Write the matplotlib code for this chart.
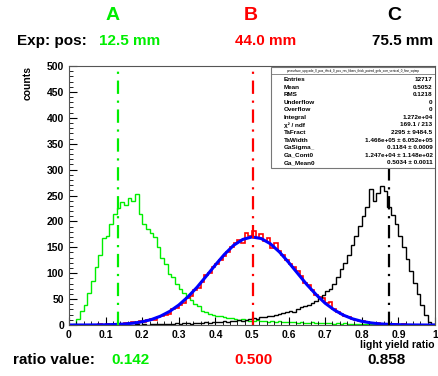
import numpy as np
from matplotlib import pyplot as plt
from matplotlib.patches import Rectangle

plt.rcParams['font.family'] = ['Liberation Sans', 'DejaVu Sans']

# 100 bins between 0 and 1
edges = np.linspace(0, 1, 101)

hist_A = [0, 2, 12, 28, 38, 62, 85, 112, 135, 168,
          172, 195, 215, 225, 238, 232, 246, 240, 252, 215,
          195, 185, 178, 170, 150, 130, 118, 98, 92, 80,
          70, 62, 55, 48, 40, 36, 27, 26, 22, 20,
          18, 18, 15, 14, 13, 12, 10, 11, 9, 8,
          8, 9, 7, 8, 6, 7, 6, 7, 5, 6,
          5, 6, 4, 5, 4, 4, 5, 3, 4, 3,
          4, 3, 2, 3, 2, 3, 2, 2, 1, 2,
          1, 2, 1, 1, 1, 1, 1, 0, 1, 0,
          1, 0, 0, 0, 0, 0, 0, 0, 0, 0]

hist_B = [0, 0, 0, 0, 0, 0, 0, 0, 1, 0,
          1, 0, 1, 2, 1, 3, 3, 5, 4, 7,
          6, 10, 12, 10, 16, 18, 20, 22, 30, 33,
          38, 42, 52, 56, 68, 72, 84, 96, 100, 112,
          118, 125, 134, 140, 150, 158, 165, 158, 178, 172,
          182, 168, 175, 162, 168, 148, 158, 142, 136, 125,
          118, 112, 104, 95, 82, 78, 68, 58, 55, 52,
          42, 45, 30, 26, 22, 18, 15, 12, 10, 8,
          7, 6, 4, 4, 3, 2, 2, 1, 1, 1,
          0, 1, 0, 0, 0, 0, 0, 0, 0, 0]

hist_C = [0, 0, 0, 0, 0, 0, 0, 0, 0, 0,
          0, 0, 0, 0, 0, 1, 0, 0, 1, 0,
          1, 0, 1, 1, 2, 1, 2, 2, 1, 3,
          2, 3, 3, 2, 4, 3, 4, 5, 4, 5,
          6, 5, 7, 6, 8, 7, 9, 8, 10, 11,
          13, 12, 15, 16, 18, 17, 20, 22, 24, 25,
          28, 26, 30, 34, 36, 38, 42, 46, 52, 58,
          65, 70, 80, 92, 108, 120, 135, 155, 172, 192,
          210, 228, 262, 240, 255, 268, 258, 228, 212, 195,
          172, 150, 128, 105, 82, 60, 38, 20, 6, 1]

# gaussian fit curve
fit_x = np.linspace(0, 1, 41)
fit_y = [0.02, 0.05, 0.1, 0.24, 0.5, 1.0, 1.9, 3.6, 6.3, 10.5,
         17.1, 26.3, 38.6, 54.4, 73, 94.3, 116, 136.6, 154, 165.3,
         170, 167, 157, 141, 121, 99.5, 78, 58.9, 42, 29.0,
         19, 11.9, 7.1, 4.1, 2.2, 1.2, 0.6, 0.3, 0.1, 0.03, 0.0]

mark_pos = [0.134, 0.503, 0.875]
mark_col = ['#00ee00', '#ff0000', 'black']
labels = ['A', 'B', 'C']
exp_pos = ['12.5 mm', '44.0 mm', '75.5 mm']
ratio_vals = ['0.142', '0.500', '0.858']

stats_names = ['Entries', 'Mean', 'RMS', 'Underflow', 'Overflow', 'Integral',
               'χ² / ndf', 'TaFract', 'TaWidth', 'GaSigma_', 'Ga_Cont0', 'Ga_Mean0']
stats_vals = ['12717', '0.5052', '0.1218', '0', '0', '1.272e+04', '169.1 / 213',
              '2295 ± 9484.5', '1.466e+05 ± 6.052e+05', '0.1184 ± 0.0009',
              '1.247e+04 ± 1.148e+02', '0.5034 ± 0.0011']

fig = plt.figure(figsize=(4.38, 3.76), dpi=100)
ax = fig.add_axes([0.1575, 0.1356, 0.8356, 0.6888])

ax.stairs(hist_A, edges, color='#00ee00', lw=1)
ax.stairs(hist_B, edges, color='red', lw=1.2)
ax.stairs(hist_C, edges, color='black', lw=1)
ax.plot(fit_x, fit_y, color='blue', lw=2.2)

for p, c in zip(mark_pos, mark_col):
    ax.plot([p, p], [0, 500], color=c, lw=1.6, linestyle=(0, (6, 3, 1, 3)))

ax.set_xlim(0, 1)
ax.set_ylim(0, 500)
ax.set_xticks(np.arange(0, 1.01, 0.1))
ax.set_xticklabels(['0', '0.1', '0.2', '0.3', '0.4', '0.5', '0.6', '0.7', '0.8', '0.9', '1'])
ax.set_xticks(np.arange(0, 1.001, 0.02), minor=True)
ax.set_yticks(np.arange(0, 501, 50))
ax.set_yticks(np.arange(0, 501, 10), minor=True)
ax.tick_params(which='both', direction='in', labelsize=7.5, top=False, right=False)
ax.tick_params(which='major', length=6)
ax.tick_params(which='minor', length=3)
for lab in ax.get_xticklabels() + ax.get_yticklabels():
    lab.set_fontweight('bold')
for s in ax.spines.values():
    s.set_color('#555555')
    s.set_linewidth(0.8)

ax.set_ylabel('counts', fontsize=7.5, fontweight='bold', loc='top', labelpad=10)
ax.set_xlabel('light yield ratio', fontsize=7.5, fontweight='bold', loc='right', labelpad=0)

# stats box
bx0, bx1, by0, by1 = 0.552, 1.003, 0.606, 0.996
ax.add_patch(Rectangle((bx0, by0), bx1 - bx0, by1 - by0, transform=ax.transAxes,
                       facecolor='white', edgecolor='#777777', lw=0.8, zorder=5))
ax.plot([bx0, bx1], [0.968, 0.968], transform=ax.transAxes, color='#777777', lw=0.6, zorder=6)
ax.text((bx0 + bx1) / 2, 0.982,
        'povsurface_upgrade_0_pos_thick_0_pos_res_fibers_thick_paired_gels_corr_vertical_0_fine_sqtmp',
        transform=ax.transAxes, fontsize=2.2, ha='center', va='center', zorder=7)
row_h = (0.962 - 0.612) / len(stats_names)
for i, (n, v) in enumerate(zip(stats_names, stats_vals)):
    yy = 0.962 - row_h * (i + 0.5)
    ax.text(bx0 + 0.035, yy, n, transform=ax.transAxes, fontsize=4.6, fontweight='bold',
            ha='left', va='center', zorder=7)
    ax.text(bx1 - 0.01, yy, v, transform=ax.transAxes, fontsize=4.6, fontweight='bold',
            ha='right', va='center', zorder=7)

# top and bottom annotations
lab_x = [113 / 438, 251 / 438, 394 / 438]
pos_x = [130 / 438, 266 / 438, 403 / 438]
val_x = [131 / 438, 253 / 438, 387 / 438]
for i in range(3):
    fig.text(lab_x[i], 1 - 15 / 376, labels[i], color=mark_col[i], fontsize=14,
             fontweight='bold', ha='center', va='center')
    fig.text(pos_x[i], 1 - 41 / 376, exp_pos[i], color=mark_col[i], fontsize=11,
             fontweight='bold', ha='center', va='center')
    fig.text(val_x[i], 1 - 360 / 376, ratio_vals[i], color=mark_col[i], fontsize=11,
             fontweight='bold', ha='center', va='center')
fig.text(17 / 438, 1 - 41 / 376, 'Exp: pos:', fontsize=11, fontweight='bold',
         ha='left', va='center')
fig.text(13 / 438, 1 - 360 / 376, 'ratio value:', fontsize=11, fontweight='bold',
         ha='left', va='center')

plt.savefig('out.png', dpi=100)
